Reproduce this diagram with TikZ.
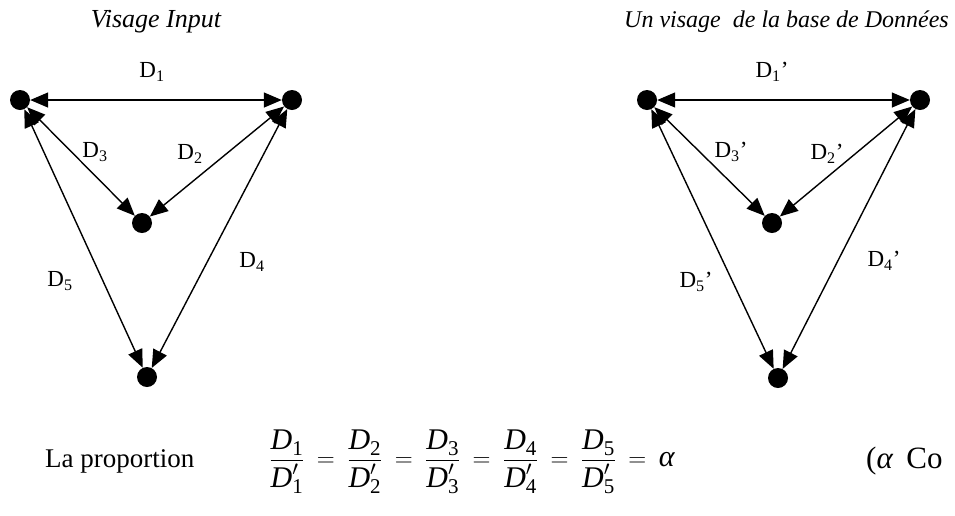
\documentclass[tikz,border=0pt]{standalone}
\usepackage{fontspec}
\usepackage{amsmath}
\setmainfont{Liberation Serif}
\usetikzlibrary{arrows.meta}
\tikzset{
  pt/.style={circle,fill=black,inner sep=0pt,minimum size=20pt},
  link/.style={{Triangle[length=18pt,width=15pt]}-{Triangle[length=18pt,width=15pt]},line width=1.4pt},
  lbl/.style={font=\fontsize{23}{27}\selectfont,inner sep=0pt},
  ttl/.style={font=\fontsize{26}{30}\selectfont\itshape,inner sep=0pt},
  big/.style={font=\fontsize{27}{32}\selectfont,inner sep=0pt}
}
\newcommand{\Dv}[1]{\text{\itshape D}_{\text{#1}}}
\newcommand{\Dp}[1]{\text{\itshape D}'_{\text{#1}}}
\begin{document}
\begin{tikzpicture}[x=1pt,y=-1pt]
\useasboundingbox (0,0) rectangle (955,515);
% titles
\node[ttl] (t1) at (156,22) {Visage Input};
\node[font=\fontsize{24}{28}\selectfont\itshape,inner sep=0pt,anchor=east] (t2) at (949,22) {Un visage\ \ de la base de Données};
% left figure
\node[pt] (a) at (20,100) {};
\node[pt] (b) at (292,100) {};
\node[pt] (c) at (142,223) {};
\node[pt] (e) at (147,377) {};
\draw[link] (a) -- (b);
\draw[link] (a) -- (c);
\draw[link] (b) -- (c);
\draw[link] (a) -- (e);
\draw[link] (b) -- (e);
\node[lbl] (l1) at (152,72) {D\textsubscript{1}};
\node[lbl] (l3) at (95,152) {D\textsubscript{3}};
\node[lbl] (l2) at (190,154) {D\textsubscript{2}};
\node[lbl] (l4) at (252,262) {D\textsubscript{4}};
\node[lbl] (l5) at (60,281) {D\textsubscript{5}};
% right figure
\node[pt] (a2) at (647,100) {};
\node[pt] (b2) at (920,100) {};
\node[pt] (c2) at (772,223) {};
\node[pt] (e2) at (778,378) {};
\draw[link] (a2) -- (b2);
\draw[link] (a2) -- (c2);
\draw[link] (b2) -- (c2);
\draw[link] (a2) -- (e2);
\draw[link] (b2) -- (e2);
\node[lbl] (m1) at (772,72) {D\textsubscript{1}’};
\node[lbl] (m3) at (731,152) {D\textsubscript{3}’};
\node[lbl] (m2) at (827,154) {D\textsubscript{2}’};
\node[lbl] (m4) at (884,261) {D\textsubscript{4}’};
\node[lbl] (m5) at (696,282) {D\textsubscript{5}’};
% bottom row
\node[big,anchor=west] (lp) at (45,461) {La proportion};
\node[font=\fontsize{30}{36}\selectfont,inner sep=0pt] (eq) at (472,462) {\thickmuskip=9mu$\dfrac{\Dv{1}}{\Dp{1}}=\dfrac{\Dv{2}}{\Dp{2}}=\dfrac{\Dv{3}}{\Dp{3}}=\dfrac{\Dv{4}}{\Dp{4}}=\dfrac{\Dv{5}}{\Dp{5}}=\text{\itshape α}$};
\node[font=\fontsize{31}{36}\selectfont,inner sep=0pt,anchor=west] (co) at (866,461) {(\textit{α}\hspace{13pt}Co};
\end{tikzpicture}
\end{document}
